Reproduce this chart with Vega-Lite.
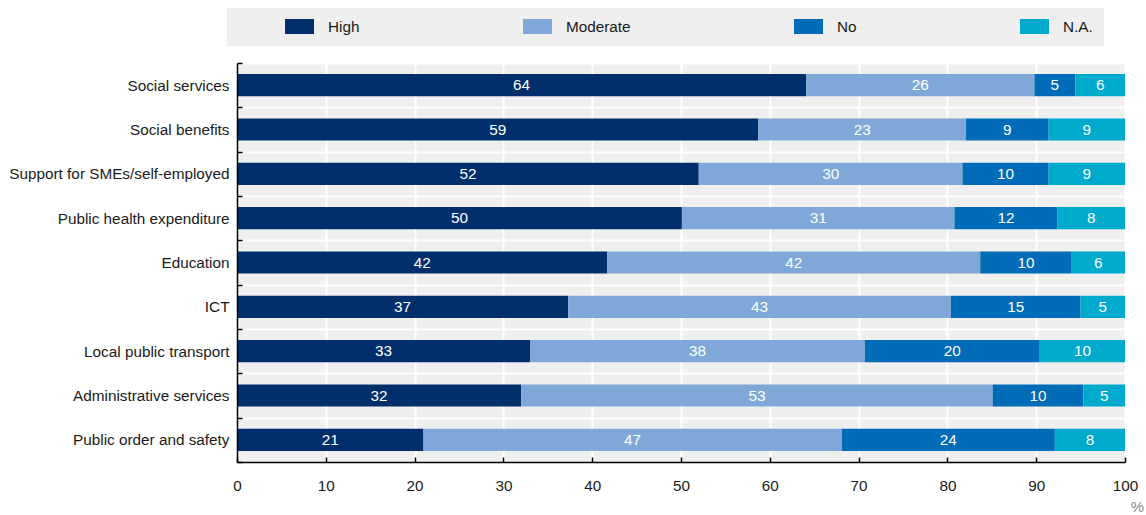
{
  "$schema": "https://vega.github.io/schema/vega-lite/v6.json",
  "width": 888,
  "height": 399,
  "autosize": {"type": "none"},
  "padding": {"left": 237, "top": 63, "right": 21, "bottom": 53},
  "config": {
    "font": "Liberation Sans",
    "view": {"fill": "#efefef", "stroke": null}
  },
  "data": {
    "values": [
      {"service": "Social services", "level": "High", "ord": 1, "value": 64.1},
      {"service": "Social services", "level": "Moderate", "ord": 2, "value": 25.7},
      {"service": "Social services", "level": "No", "ord": 3, "value": 4.6},
      {"service": "Social services", "level": "N.A.", "ord": 4, "value": 5.6},
      {"service": "Social benefits", "level": "High", "ord": 1, "value": 58.7},
      {"service": "Social benefits", "level": "Moderate", "ord": 2, "value": 23.4},
      {"service": "Social benefits", "level": "No", "ord": 3, "value": 9.3},
      {"service": "Social benefits", "level": "N.A.", "ord": 4, "value": 8.6},
      {"service": "Support for SMEs/self-employed", "level": "High", "ord": 1, "value": 52.0},
      {"service": "Support for SMEs/self-employed", "level": "Moderate", "ord": 2, "value": 29.7},
      {"service": "Support for SMEs/self-employed", "level": "No", "ord": 3, "value": 9.7},
      {"service": "Support for SMEs/self-employed", "level": "N.A.", "ord": 4, "value": 8.6},
      {"service": "Public health expenditure", "level": "High", "ord": 1, "value": 50.1},
      {"service": "Public health expenditure", "level": "Moderate", "ord": 2, "value": 30.7},
      {"service": "Public health expenditure", "level": "No", "ord": 3, "value": 11.6},
      {"service": "Public health expenditure", "level": "N.A.", "ord": 4, "value": 7.6},
      {"service": "Education", "level": "High", "ord": 1, "value": 41.7},
      {"service": "Education", "level": "Moderate", "ord": 2, "value": 42.0},
      {"service": "Education", "level": "No", "ord": 3, "value": 10.3},
      {"service": "Education", "level": "N.A.", "ord": 4, "value": 6.0},
      {"service": "ICT", "level": "High", "ord": 1, "value": 37.3},
      {"service": "ICT", "level": "Moderate", "ord": 2, "value": 43.1},
      {"service": "ICT", "level": "No", "ord": 3, "value": 14.6},
      {"service": "ICT", "level": "N.A.", "ord": 4, "value": 5.0},
      {"service": "Local public transport", "level": "High", "ord": 1, "value": 33.0},
      {"service": "Local public transport", "level": "Moderate", "ord": 2, "value": 37.7},
      {"service": "Local public transport", "level": "No", "ord": 3, "value": 19.7},
      {"service": "Local public transport", "level": "N.A.", "ord": 4, "value": 9.6},
      {"service": "Administrative services", "level": "High", "ord": 1, "value": 32.0},
      {"service": "Administrative services", "level": "Moderate", "ord": 2, "value": 53.1},
      {"service": "Administrative services", "level": "No", "ord": 3, "value": 10.2},
      {"service": "Administrative services", "level": "N.A.", "ord": 4, "value": 4.7},
      {"service": "Public order and safety", "level": "High", "ord": 1, "value": 21.0},
      {"service": "Public order and safety", "level": "Moderate", "ord": 2, "value": 47.1},
      {"service": "Public order and safety", "level": "No", "ord": 3, "value": 24.0},
      {"service": "Public order and safety", "level": "N.A.", "ord": 4, "value": 7.9}
    ]
  },
  "encoding": {
    "y": {
      "field": "service",
      "type": "nominal",
      "sort": null,
      "scale": {"paddingInner": 0, "paddingOuter": 0},
      "axis": {
        "title": null,
        "tickBand": "extent",
        "grid": true,
        "gridColor": {"condition": {"test": "datum.value === 'Public order and safety'", "value": "transparent"}, "value": "#ffffff"},
        "gridWidth": 2,
        "domainColor": "#000000",
        "domainWidth": 1.5,
        "tickColor": "#000000",
        "tickWidth": 1.5,
        "tickSize": -5,
        "labelFontSize": 15.3,
        "labelColor": "#1a1a1a",
        "labelPadding": 13,
        "labelLimit": 400,
        "zindex": 1
      }
    },
    "x": {
      "field": "value",
      "type": "quantitative",
      "stack": "zero",
      "scale": {"domain": [0, 100], "nice": false},
      "axis": {
        "title": "%",
        "titleX": 900,
        "titleY": 44,
        "titleBaseline": "middle",
        "titleAlign": "center",
        "titleColor": "#888888",
        "titleFontWeight": "normal",
        "titleFontSize": 15,
        "values": [0, 10, 20, 30, 40, 50, 60, 70, 80, 90, 100],
        "labelFlush": false,
        "grid": true,
        "gridColor": "#ffffff",
        "gridWidth": 2,
        "domainColor": "#000000",
        "domainWidth": 1.5,
        "tickColor": "#000000",
        "tickWidth": 1.5,
        "tickSize": -5,
        "labelFontSize": 15.3,
        "labelColor": "#1a1a1a",
        "labelPadding": 21,
        "zindex": 0
      }
    },
    "order": {"field": "ord", "type": "quantitative"}
  },
  "layer": [
    {
      "mark": {"type": "bar", "height": {"band": 0.5}},
      "encoding": {
        "color": {
          "field": "level",
          "type": "nominal",
          "scale": {
            "domain": ["High", "Moderate", "No", "N.A."],
            "range": ["#002f6c", "#7fa8d9", "#006bb6", "#00aacc"]
          },
          "legend": {
            "title": " ",
            "titleOrient": "left",
            "titlePadding": 47,
            "titleFontSize": 15,
            "orient": "none",
            "legendX": -10,
            "legendY": -55,
            "direction": "horizontal",
            "fillColor": "#efefef",
            "padding": 11,
            "clipHeight": 15,
            "symbolType": "M-1,-0.517H1V0.517H-1Z",
            "symbolSize": 841,
            "symbolStrokeWidth": 0,
            "symbolOpacity": 1,
            "labelFontSize": 15.3,
            "labelColor": "#1a1a1a",
            "labelOffset": 14,
            "columnPadding": 163,
            "gridAlign": "each"
          }
        }
      }
    },
    {
      "mark": {"type": "text", "color": "#ffffff", "fontSize": 15.3, "baseline": "middle", "align": "center"},
      "encoding": {
        "x": {"field": "value", "type": "quantitative", "stack": "zero", "bandPosition": 0.5},
        "detail": {"field": "level"},
        "text": {"field": "value", "type": "quantitative", "format": ".0f"}
      }
    }
  ]
}
